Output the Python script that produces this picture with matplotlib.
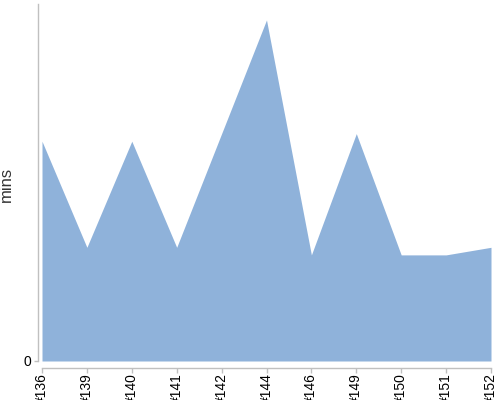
import matplotlib
matplotlib.use("Agg")
import matplotlib.pyplot as plt

builds = ["#136", "#139", "#140", "#141", "#142", "#144", "#146", "#149", "#150", "#151", "#152"]
minutes = [29, 15, 29, 15, 30, 45, 14, 30, 14, 14, 15]

plt.rcParams['font.family'] = ['Liberation Sans', 'DejaVu Sans']

fig = plt.figure(figsize=(5, 4), dpi=100)
ax = fig.add_axes([42/500, 39/400, 449/500, 357/400])

x = list(range(len(builds)))
ax.fill_between(x, 0, minutes, color='#8FB2DA', linewidth=0)

ax.set_xlim(0, len(builds) - 1)
ax.set_ylim(0, 47.1)

ax.set_xticks(x)
ax.set_xticklabels(builds, fontsize=7, color='#111111')
ax.set_yticks([0])
ax.set_yticklabels(['0'], fontsize=9.5, color='#666666')

for s in ['top', 'right']:
    ax.spines[s].set_visible(False)
ax.spines['left'].set_position(('outward', 3))
ax.spines['bottom'].set_position(('outward', 5))
for s in ['left', 'bottom']:
    ax.spines[s].set_color('#C0C0C0')
    ax.spines[s].set_linewidth(1)

ax.tick_params(axis='x', length=3.5, width=1, color='#C0C0C0', pad=0.5, labelrotation=90)
ax.tick_params(axis='y', length=3, width=1, color='#C0C0C0', pad=2)
for lbl in ax.get_xticklabels():
    lbl.set_verticalalignment('top')
    lbl.set_horizontalalignment('center')

ax.set_ylabel('mins', fontsize=12, color='#333333')
ax.yaxis.set_label_coords(-0.062, 0.494)

fig.savefig('out.png', dpi=100)
